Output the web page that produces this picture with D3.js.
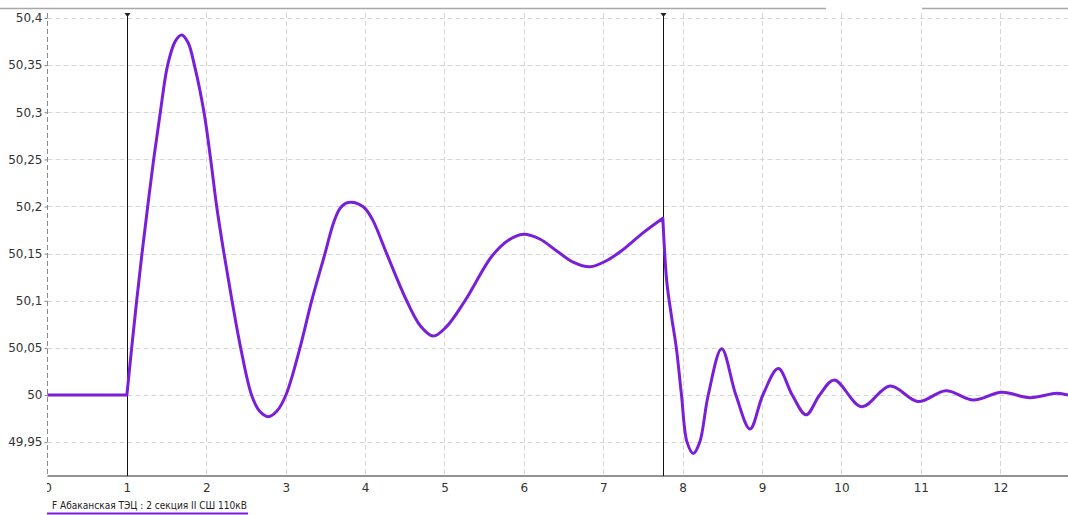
<!DOCTYPE html>
<html>
<head>
<meta charset="utf-8">
<script src="https://cdn.jsdelivr.net/npm/d3@7"></script>
<style>
  body { margin: 0; background: #fff; }
  svg { display: block; }
</style>
</head>
<body>
<svg id="chart" width="1068" height="515"></svg>
<script>
const timeS = [
  0, 1, 1.060, 1.123, 1.190, 1.262, 1.337, 1.421, 1.513, 1.61, 1.690,
  1.77, 1.85, 1.971, 2.055, 2.131, 2.223, 2.324, 2.433, 2.570, 2.67,
  2.781, 2.89, 3.003, 3.180, 3.327, 3.495, 3.60, 3.684, 3.76, 3.831, 3.92,
  3.999, 4.10, 4.272, 4.524, 4.70, 4.859, 5.02, 5.258, 5.594, 5.80, 5.992,
  6.20, 6.41, 6.62, 6.832, 7.05, 7.23, 7.50, 7.75,
  7.80, 7.86, 7.920, 7.985, 8.055, 8.134, 8.215, 8.322, 8.491, 8.670, 8.848,
  9.010, 9.204, 9.380, 9.553, 9.725, 9.909, 10.254, 10.611, 10.967, 11.316,
  11.660, 12.018, 12.374, 12.710, 12.853
];
const freqHz = [
  50, 50, 50.05, 50.1, 50.15, 50.2, 50.25, 50.3, 50.35, 50.3755, 50.382,
  50.374, 50.35, 50.3, 50.25, 50.2, 50.15, 50.1, 50.05, 50, 49.983,
  49.977, 49.983, 50, 50.05, 50.1, 50.15, 50.182, 50.198, 50.2035, 50.2045, 50.2025,
  50.198, 50.185, 50.15, 50.1, 50.073, 50.0625, 50.072, 50.1, 50.147, 50.164, 50.1705,
  50.1655, 50.153, 50.141, 50.136, 50.143, 50.153, 50.172, 50.1875,
  50.12, 50.083, 50.05, 50, 49.95, 49.938, 49.95, 50, 50.049, 50, 49.964,
  50, 50.028, 50, 49.979, 50, 50.016, 49.9876, 50.0095, 49.993, 50.0046,
  49.9947, 50.0029, 49.9971, 50.0018, 50
];
const cursorTimes = [1, 7.75];
const xTicks = [0, 1, 2, 3, 4, 5, 6, 7, 8, 9, 10, 11, 12];
const yTicks = [49.95, 50, 50.05, 50.1, 50.15, 50.2, 50.25, 50.3, 50.35, 50.4];
const yTickLabels = ['49,95', '50', '50,05', '50,1', '50,15', '50,2', '50,25', '50,3', '50,35', '50,4'];
const seriesName = 'F Абаканская ТЭЦ : 2 секция II СШ 110кВ';

const W = 1068;
const plotLeft = 47.5, plotRight = 1068, plotTop = 18, plotBottom = 476;
const svg = d3.select('#chart');
const font = "'DejaVu Sans', Verdana, sans-serif";

const x = d3.scaleLinear().domain([0, 12.853]).range([plotLeft, plotRight]);
const y = d3.scaleLinear().domain([50, 50.4]).range([395, plotTop]);

// верхняя рамка окна
svg.append('line').attr('x1', 0).attr('x2', 826).attr('y1', 8.5).attr('y2', 8.5)
  .attr('stroke', '#a8a8a8').attr('stroke-width', 1.5);
svg.append('line').attr('x1', 922).attr('x2', W).attr('y1', 8.5).attr('y2', 8.5)
  .attr('stroke', '#a8a8a8').attr('stroke-width', 1.5);

// сетка
const grid = svg.append('g').attr('stroke', '#d6d6d6').attr('stroke-dasharray', '5,3');
grid.selectAll('.hg').data(yTicks).enter().append('line')
  .attr('x1', plotLeft).attr('x2', plotRight)
  .attr('y1', d => Math.round(y(d)) + 0.5).attr('y2', d => Math.round(y(d)) + 0.5);
grid.selectAll('.vg').data(xTicks.slice(1)).enter().append('line')
  .attr('x1', d => Math.round(x(d)) + 0.5).attr('x2', d => Math.round(x(d)) + 0.5)
  .attr('y1', 13).attr('y2', plotBottom);

// ось Y
const yAxis = svg.append('g')
  .attr('transform', `translate(${plotLeft},0)`)
  .call(d3.axisLeft(y).tickValues(yTicks).tickSize(3).tickPadding(2)
    .tickFormat((d, i) => yTickLabels[i]));
yAxis.select('.domain').remove();
yAxis.selectAll('line').attr('stroke', '#888');
yAxis.selectAll('text').attr('fill', '#333').style('font', `12px ${font}`);
svg.append('line').attr('x1', plotLeft).attr('x2', plotLeft).attr('y1', 13).attr('y2', plotBottom)
  .attr('stroke', '#8a8a8a').attr('stroke-dasharray', '5,3');

// ось X (подпись "0" обрезана краем)
svg.append('clipPath').attr('id', 'xclip')
  .append('rect').attr('x', 47).attr('y', plotBottom).attr('width', W).attr('height', 30);
const xClipG = svg.append('g').attr('clip-path', 'url(#xclip)');
const xAxis = xClipG.append('g')
  .attr('transform', `translate(0,${plotBottom})`)
  .call(d3.axisBottom(x).tickValues(xTicks).tickSize(0).tickPadding(7).tickFormat(d3.format('d')));
xAxis.select('.domain').remove();
xAxis.selectAll('text').attr('fill', '#333').style('font', `12px ${font}`);
svg.append('line').attr('x1', plotLeft).attr('x2', plotRight).attr('y1', plotBottom).attr('y2', plotBottom)
  .attr('stroke', '#6e6e6e').attr('stroke-width', 1.5);

// курсоры
const cur = svg.append('g');
cur.selectAll('line').data(cursorTimes).enter().append('line')
  .attr('x1', d => Math.round(x(d)) + 0.5).attr('x2', d => Math.round(x(d)) + 0.5)
  .attr('y1', 14).attr('y2', plotBottom)
  .attr('stroke', '#111').attr('stroke-width', 1);
cur.selectAll('path').data(cursorTimes).enter().append('path')
  .attr('d', d => { const cx = Math.round(x(d)) + 0.5; return `M${cx - 3},13 h6 l-3,4 z`; })
  .attr('fill', '#222');

// кривая частоты, три участка с изломами в моменты курсоров
const pts = timeS.map((t, i) => ({ t, v: freqHz[i] }));
const segA = pts.filter(p => p.t <= cursorTimes[0]);
const segB = pts.filter(p => p.t >= cursorTimes[0] && p.t <= cursorTimes[1]);
const segC = pts.filter(p => p.t >= cursorTimes[1]);
const lin = d3.line().x(p => x(p.t)).y(p => y(p.v));
const smooth = d3.line().x(p => x(p.t)).y(p => y(p.v)).curve(d3.curveCatmullRom.alpha(0.5));
const dPath = lin(segA) + smooth(segB).replace(/^M/, 'L') + smooth(segC).replace(/^M/, 'L');
svg.append('path')
  .attr('d', dPath)
  .attr('fill', 'none')
  .attr('stroke', '#7a1fd8')
  .attr('stroke-width', 3)
  .attr('stroke-linejoin', 'round');

// легенда
svg.append('text')
  .attr('x', 52).attr('y', 509)
  .attr('fill', '#222')
  .attr('textLength', 195).attr('lengthAdjust', 'spacingAndGlyphs')
  .style('font', `11px ${font}`)
  .text(seriesName);
svg.append('line').attr('x1', 47).attr('x2', 248).attr('y1', 513.5).attr('y2', 513.5)
  .attr('stroke', '#7a1fd8').attr('stroke-width', 2);
</script>
</body>
</html>
